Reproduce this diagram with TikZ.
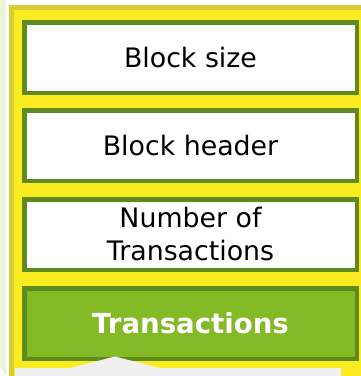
\documentclass[tikz,border=0pt]{standalone}
\usepackage{fontspec}
\setmainfont{DejaVu Sans}
\definecolor{panelyellow}{HTML}{FAEC20}
\definecolor{paneledge}{HTML}{D6CD33}
\definecolor{leafgreen}{HTML}{5E8B1B}
\definecolor{fieldgreen}{HTML}{85BA27}
\definecolor{stripgreen}{HTML}{E9F5D6}
\definecolor{tabgray}{HTML}{F0F0F0}
\tikzset{
  field/.style={draw=leafgreen, line width=4.5pt, fill=white,
    minimum width=332.5pt, minimum height=70.5pt, inner sep=0pt,
    align=center, font=\fontsize{26.8}{33}\selectfont},
  mainfield/.style={field, fill=fieldgreen, text=white,
    font=\fontsize{27.6}{33}\selectfont\bfseries}
}
\begin{document}
\begin{tikzpicture}[x=1pt,y=-1pt]
  \useasboundingbox (0,0) rectangle (360,376);
  % page background and side strip
  \fill[white] (0,0) rectangle (360,376);
  \fill[stripgreen] (0,0) -- (6,0) -- (6,376) -- (0,366) -- cycle;
  % yellow block panel with its darker rim
  \fill[paneledge] (9,5) rectangle (362,380);
  \fill[panelyellow] (14,10) rectangle (362,380);
  % block fields
  \node[field] (size) at (190.5,57.5) {Block size};
  \node[field] (header) at (190.5,145.5) {Block header};
  \node[field] (count) at (190.5,234.5) {Number of\\Transactions};
  \node[mainfield] (txs) at (190.5,323.5) {Transactions};
  % pointer tab below the transactions field
  \fill[tabgray] (15,380) -- (15,368) -- (70,368) -- (115,356.5)
    -- (160,368) -- (341,368) -- (341,380) -- cycle;
\end{tikzpicture}
\end{document}
